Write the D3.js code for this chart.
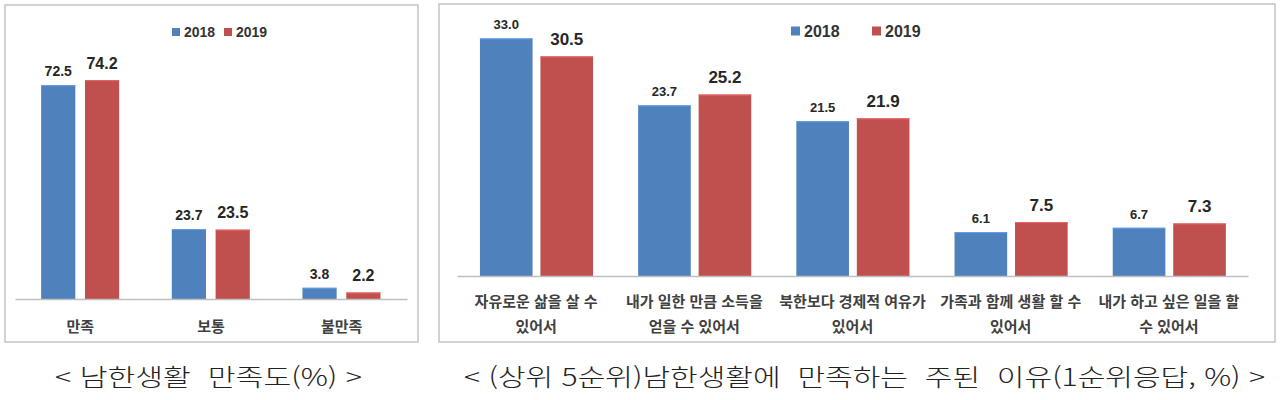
<!DOCTYPE html>
<html lang="ko">
<head>
<meta charset="utf-8">
<script src="https://cdn.jsdelivr.net/npm/d3@7"></script>
<style>
  body { margin: 0; background: #fff; }
  svg { display: block; }
  .val { font-family: "Liberation Sans", Arial, sans-serif; font-weight: 700; fill: #262626; text-anchor: middle; }
  .cat { font-family: "Noto Sans CJK KR", sans-serif; font-weight: 700; fill: #404040; text-anchor: middle; }
  .leg { font-family: "Liberation Sans", Arial, sans-serif; font-weight: 700; fill: #333; }
  .cap { font-family: "Noto Sans CJK KR", sans-serif; font-weight: 300; fill: #222; white-space: pre; }
</style>
</head>
<body>
<div id="chart"></div>
<script>
// data
const years = ['2018', '2019'];
const colors = ['#4F81BD', '#C0504D'];

const satCategories = ['만족', '보통', '불만족'];
const sat2018 = [72.5, 23.7, 3.8];
const sat2019 = [74.2, 23.5, 2.2];

const reasonCategories = [
  ['자유로운 삶을 살 수', '있어서'],
  ['내가 일한 만큼 소득을', '얻을 수 있어서'],
  ['북한보다 경제적 여유가', '있어서'],
  ['가족과 함께 생활 할 수', '있어서'],
  ['내가 하고 싶은 일을 할', '수 있어서'],
];
const reason2018 = [33.0, 23.7, 21.5, 6.1, 6.7];
const reason2019 = [30.5, 25.2, 21.9, 7.5, 7.3];

const satCaption = '< 남한생활  만족도(%) >';
const reasonCaption = '< (상위 5순위)남한생활에  만족하는  주된  이유(1순위응답, %) >';

const width = 1280;
const height = 400;

const color = d3.scaleOrdinal().domain(years).range(colors);

const svg = d3.select('#chart')
  .append('svg')
  .attr('width', width)
  .attr('height', height)
  .attr('viewBox', `0 0 ${width} ${height}`);

function drawPanel(opt) {
  const g = svg.append('g');

  // frame
  g.append('rect')
    .attr('x', opt.frame[0]).attr('y', opt.frame[1])
    .attr('width', opt.frame[2]).attr('height', opt.frame[3])
    .attr('fill', '#fff')
    .attr('stroke', '#c4c4c4')
    .attr('stroke-width', 1.5);

  const keys = opt.categories.map((d, i) => i);

  const x = d3.scaleBand()
    .domain(keys)
    .range(opt.xRange)
    .paddingInner(0)
    .paddingOuter(0);

  const step = x.bandwidth();
  const xSub = d3.scaleBand()
    .domain(years)
    .range([opt.sub[0] * step, opt.sub[1] * step])
    .paddingInner(opt.subPad);

  const y = d3.scaleLinear()
    .domain(opt.yDomain)
    .range(opt.yRange);

  const rows = [];
  keys.forEach((k) => {
    rows.push({ key: k, year: '2018', value: opt.v2018[k] });
    rows.push({ key: k, year: '2019', value: opt.v2019[k] });
  });

  // bars
  g.append('g')
    .selectAll('rect')
    .data(rows)
    .join('rect')
    .attr('x', (d) => x(d.key) + xSub(d.year))
    .attr('y', (d) => y(d.value))
    .attr('width', xSub.bandwidth())
    .attr('height', (d) => y(0) - y(d.value))
    .attr('fill', (d) => color(d.year));

  // light top edge like the source
  g.append('g')
    .selectAll('line')
    .data(rows)
    .join('line')
    .attr('x1', (d) => x(d.key) + xSub(d.year))
    .attr('x2', (d) => x(d.key) + xSub(d.year) + xSub.bandwidth())
    .attr('y1', (d) => y(d.value) + 0.5)
    .attr('y2', (d) => y(d.value) + 0.5)
    .attr('stroke', (d) => d3.color(color(d.year)).brighter(0.6))
    .attr('stroke-width', 1);

  // value labels
  g.append('g')
    .selectAll('text')
    .data(rows)
    .join('text')
    .attr('class', 'val')
    .attr('x', (d) => x(d.key) + xSub(d.year) + xSub.bandwidth() / 2)
    .attr('y', (d) => y(d.value) - (d.year === '2018' ? 9 : 11.5))
    .style('font-size', (d) => (d.year === '2018' ? opt.valSize[0] : opt.valSize[1]) + 'px')
    .text((d) => d.value.toFixed(1));

  // baseline axis
  const axis = g.append('g')
    .attr('transform', `translate(0,${y(0)})`)
    .call(d3.axisBottom(x).tickSize(0).tickFormat(''));
  axis.select('.domain').attr('stroke', '#bfbfbf').attr('stroke-width', 1.5);

  axis.selectAll('.tick text').remove();
  axis.selectAll('.tick')
    .append('text')
    .attr('class', 'cat')
    .style('font-size', opt.catSize + 'px')
    .selectAll('tspan')
    .data((d) => {
      const c = opt.categories[d];
      return Array.isArray(c) ? c : [c];
    })
    .join('tspan')
    .attr('x', 0)
    .attr('y', (d, i) => opt.catY + i * opt.catGap)
    .text((d) => d);

  // legend
  const leg = g.append('g')
    .selectAll('g')
    .data(years)
    .join('g')
    .attr('transform', (d, i) => `translate(${opt.legX[i]},${opt.legY})`);
  leg.append('rect')
    .attr('x', 0)
    .attr('y', -opt.legBox / 2)
    .attr('width', opt.legBox)
    .attr('height', opt.legBox)
    .attr('fill', (d) => color(d));
  leg.append('text')
    .attr('class', 'leg')
    .attr('x', opt.legBox + 4)
    .attr('dy', '0.36em')
    .style('font-size', opt.legSize + 'px')
    .text((d) => d);

  // caption
  svg.append('text')
    .attr('class', 'cap')
    .attr('x', opt.capX)
    .attr('y', 386)
    .attr('textLength', opt.capW)
    .attr('lengthAdjust', 'spacingAndGlyphs')
    .style('font-size', '24px')
    .text(opt.caption);
}

drawPanel({
  frame: [5, 5, 413, 337],
  categories: satCategories,
  v2018: sat2018,
  v2019: sat2019,
  xRange: [15, 407],
  sub: [0.2, 0.797],
  subPad: 0.22,
  yDomain: [0, 80],
  yRange: [299, 63],
  valSize: [14, 16],
  catSize: 15,
  catY: 33,
  catGap: 22,
  legX: [172, 224],
  legY: 32,
  legBox: 8,
  legSize: 14,
  caption: satCaption,
  capX: 55,
  capW: 307,
});

drawPanel({
  frame: [439, 4, 836, 338],
  categories: reasonCategories,
  v2018: reason2018,
  v2019: reason2019,
  xRange: [457, 1248],
  sub: [0.145, 0.86],
  subPad: 0.13,
  yDomain: [0, 35],
  yRange: [276, 24],
  valSize: [13, 17],
  catSize: 15,
  catY: 31,
  catGap: 25,
  legX: [791, 872],
  legY: 31,
  legBox: 9,
  legSize: 16,
  caption: reasonCaption,
  capX: 464,
  capW: 801,
});
</script>
</body>
</html>
